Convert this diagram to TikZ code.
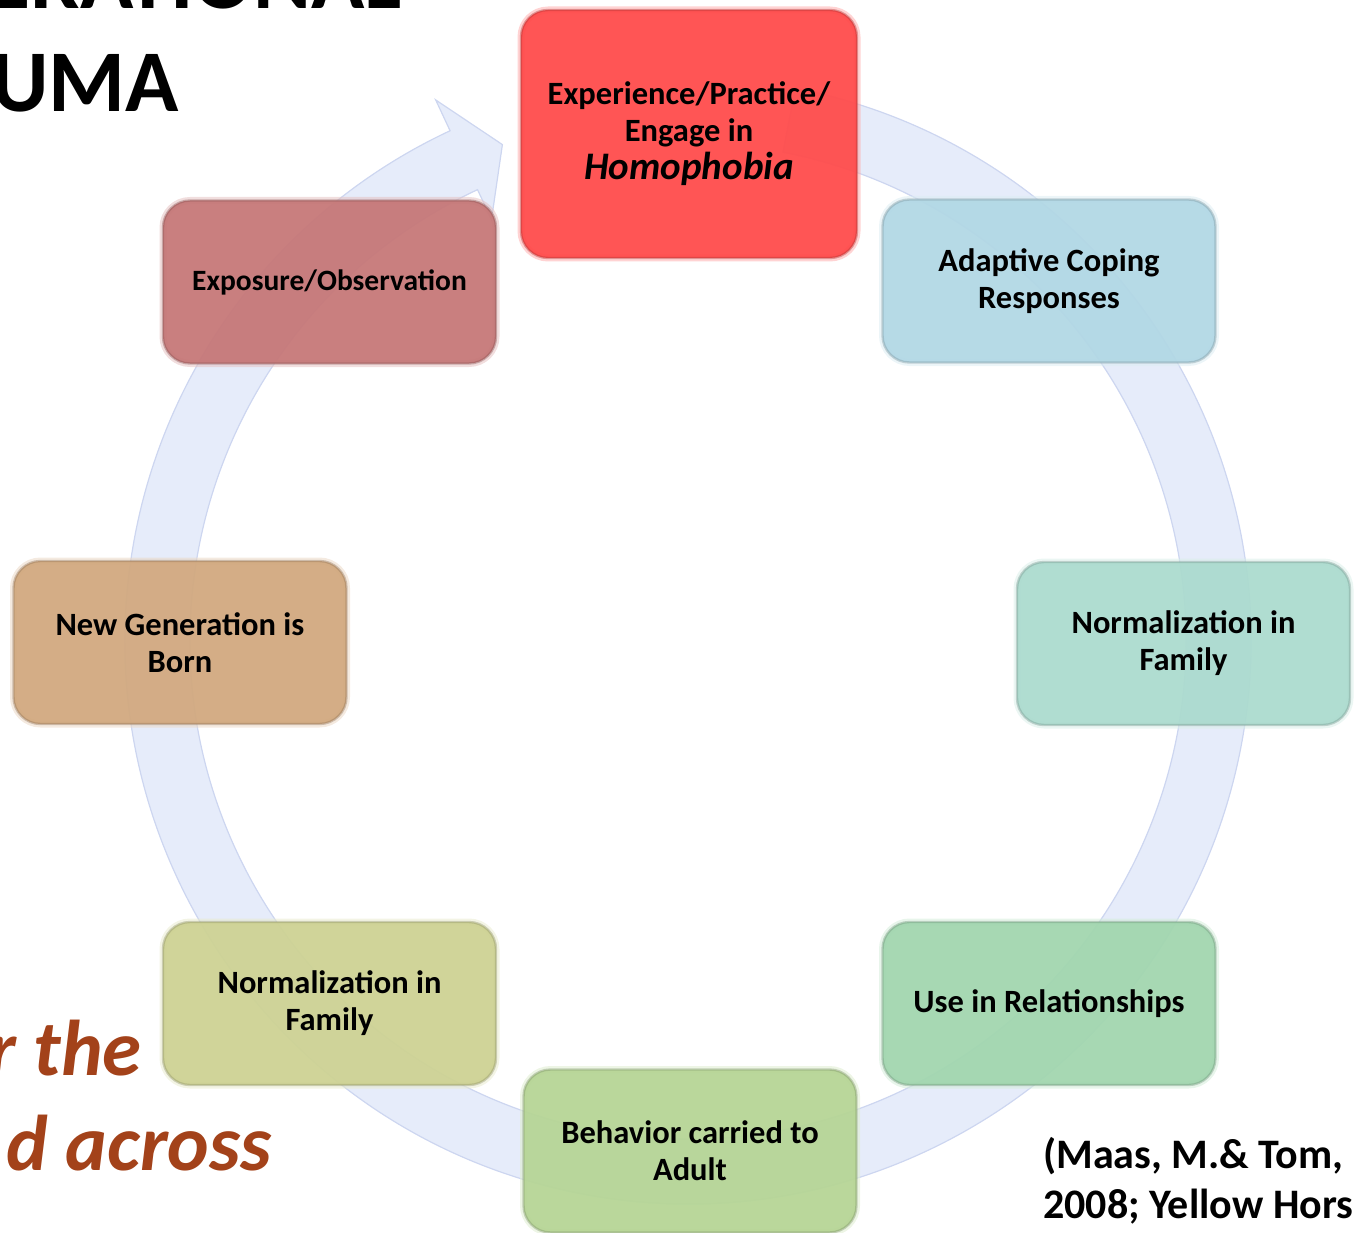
\documentclass[tikz,border=0pt]{standalone}
\usepackage{fontspec}
\setmainfont{Carlito}
\definecolor{ringfill}{RGB}{230,236,250}
\definecolor{ringedge}{RGB}{205,214,240}
\definecolor{cRed}{RGB}{255,76,76}
\definecolor{cExpo}{RGB}{198,120,120}
\definecolor{cAdapt}{RGB}{178,216,229}
\definecolor{cNormR}{RGB}{172,219,207}
\definecolor{cUse}{RGB}{162,214,175}
\definecolor{cBehav}{RGB}{182,213,150}
\definecolor{cNormL}{RGB}{206,210,148}
\definecolor{cNew}{RGB}{210,169,128}
\definecolor{cOrange}{RGB}{163,66,26}
\newcommand\boxfont{\fontsize{32.5}{37}\selectfont\bfseries}
\newcommand\smallboxfont{\fontsize{29.5}{36}\selectfont\bfseries}
\newcommand\titlefont{\fontsize{88}{100}\selectfont\bfseries}
\newcommand\slogfont{\fontsize{79}{90}\selectfont\bfseries\itshape}
\newcommand\citefont{\fontsize{42}{50}\selectfont\bfseries}
\begin{document}
\begin{tikzpicture}[x=1pt,y=1pt,
  cbox/.style={rectangle, rounded corners=27pt, minimum width=333pt, minimum height=163pt,
    inner sep=0pt, align=center, font=\boxfont,
    preaction={draw=#1!45!white, line width=7pt, draw opacity=0.55},
    fill=#1, fill opacity=0.95, text opacity=1,
    draw=#1!70!black, draw opacity=0.4, line width=2.4pt}]
\useasboundingbox (0,0) rectangle (1357,-1233);
\clip (0,0) rectangle (1357,-1233);
% circular arrow
\begin{scope}[shift={(688,-641)}]
  \coordinate (ctr) at (0,0);
  \filldraw[fill=ringfill, draw=ringedge, line width=1.2pt]
    (79:563) arc[start angle=79, end angle=-245, radius=563]
    -- (-245:597) -- (-249.5:530) -- (-245:465) -- (-245:498)
    arc[start angle=-245, end angle=79, radius=498] -- cycle;
\end{scope}
% boxes
\node[cbox=cRed, minimum width=336pt, minimum height=248pt] (b1) at (689,-134)
  {Experience/Practice/\\ Engage in\\[1pt] {\fontsize{39}{44}\selectfont\bfseries\itshape Homophobia}};
\node[cbox=cAdapt] (b2) at (1049,-281) {Adaptive Coping\\ Responses};
\node[cbox=cNormR] (b3) at (1183.5,-643.5) {Normalization in\\ Family};
\node[cbox=cUse] (b4) at (1049,-1003.5) {Use in Relationships};
\node[cbox=cBehav] (b5) at (690,-1151) {Behavior carried to\\ Adult};
\node[cbox=cNormL] (b6) at (329.5,-1003.5) {Normalization in\\ Family};
\node[cbox=cNew] (b7) at (180,-642.5) {New Generation is\\ Born};
\node[cbox=cExpo, font=\smallboxfont] (b8) at (329.5,-282) {Exposure/Observation};
% background texts
\node[anchor=base east, inner sep=0pt, font=\titlefont] (t1) at (402,-9) {ERATIONAL};
\node[anchor=base east, inner sep=0pt, font=\titlefont] (t2) at (179,-112) {UMA};
\node[anchor=base east, inner sep=0pt, font=\slogfont, text=cOrange] (s1) at (142,-1075) {r the};
\node[anchor=base east, inner sep=0pt, font=\slogfont, text=cOrange] (s2) at (272,-1170) {d across};
\node[anchor=base west, inner sep=0pt, font=\citefont] (c1) at (1043,-1168) {(Maas, M.\& Tom,};
\node[anchor=base west, inner sep=0pt, font=\citefont] (c2) at (1043,-1218) {2008; Yellow Hors};
\end{tikzpicture}
\end{document}
